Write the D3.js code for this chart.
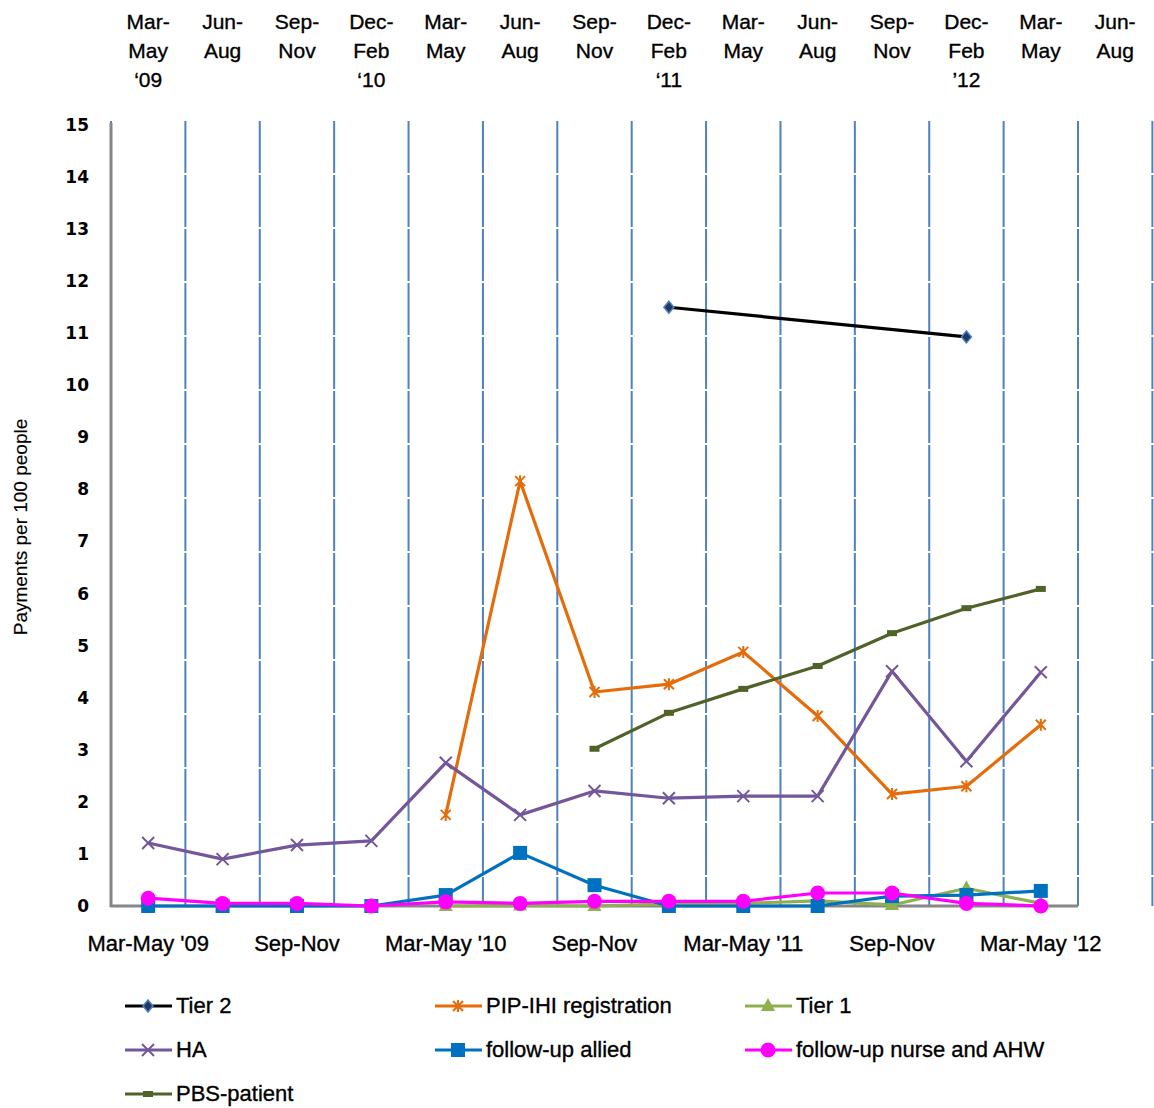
<!DOCTYPE html>
<html>
<head>
<meta charset="utf-8">
<script src="https://cdn.jsdelivr.net/npm/d3@7"></script>
<style>
  html, body { margin: 0; padding: 0; background: #fff; }
  svg { display: block; }
  .cal { font-family: "Liberation Sans Narrow", "Liberation Sans", sans-serif; stroke: #000; stroke-width: 0.35px; }
</style>
</head>
<body>
<svg id="chart" width="1154" height="1108"></svg>
<script>
// Quarterly periods plotted along the bottom axis
const periods = ["Mar-May '09", "Jun-Aug '09", "Sep-Nov '09", "Dec-Feb '10",
  "Mar-May '10", "Jun-Aug '10", "Sep-Nov '10", "Dec-Feb '11",
  "Mar-May '11", "Jun-Aug '11", "Sep-Nov '11", "Dec-Feb '12", "Mar-May '12"];

// Bottom axis labels (every second period is labelled)
const bottomLabels = ["Mar-May '09", "", "Sep-Nov", "", "Mar-May '10", "", "Sep-Nov", "",
  "Mar-May '11", "", "Sep-Nov", "", "Mar-May '12"];

// Secondary (top) axis: one more period, three-line labels
const topLabels = [
  ["Mar-", "May", "\u201809"], ["Jun-", "Aug"], ["Sep-", "Nov"], ["Dec-", "Feb", "\u201810"],
  ["Mar-", "May"], ["Jun-", "Aug"], ["Sep-", "Nov"], ["Dec-", "Feb", "\u201811"],
  ["Mar-", "May"], ["Jun-", "Aug"], ["Sep-", "Nov"], ["Dec-", "Feb", "\u201912"],
  ["Mar-", "May"], ["Jun-", "Aug"]
];

const yTicks = d3.range(0, 16);

// Payments per 100 people, by period (null = no payment item yet)
const tier2      = [null, null, null, null, null, null, null, 11.50, null, null, null, 10.93, null];
const pipIhi     = [null, null, null, null, 1.75, 8.16, 4.11, 4.26, 4.88, 3.65, 2.15, 2.30, 3.48];
const tier1      = [null, null, null, null, 0.00, 0.01, 0.00, 0.04, 0.05, 0.10, 0.02, 0.34, 0.05];
const ha         = [1.21, 0.90, 1.17, 1.25, 2.75, 1.75, 2.21, 2.07, 2.11, 2.11, 4.51, 2.78, 4.49];
const fuAllied   = [0.00, 0.00, 0.00, 0.00, 0.21, 1.02, 0.40, 0.00, 0.00, 0.00, 0.19, 0.21, 0.29];
const fuNurseAhw = [0.15, 0.05, 0.05, 0.00, 0.08, 0.05, 0.09, 0.09, 0.09, 0.25, 0.25, 0.05, 0.00];
const pbsPatient = [null, null, null, null, null, null, 3.02, 3.71, 4.17, 4.61, 5.24, 5.72, 6.09];

const series = [
  { name: "Tier 2", values: tier2, color: "#000000", marker: "diamond" },
  { name: "PIP-IHI registration", values: pipIhi, color: "#E46C0A", marker: "asterisk" },
  { name: "Tier 1", values: tier1, color: "#8FB04E", marker: "triangle" },
  { name: "HA", values: ha, color: "#73579A", marker: "cross" },
  { name: "follow-up allied", values: fuAllied, color: "#0070C0", marker: "square" },
  { name: "follow-up nurse and AHW", values: fuNurseAhw, color: "#FF00FF", marker: "circle" },
  { name: "PBS-patient", values: pbsPatient, color: "#4F6228", marker: "dash" }
];

const svg = d3.select("#chart");
const plotLeft = 111, plotBottom = 906, plotTop = 125;
const step = (1078 - plotLeft) / periods.length;

const x = d3.scaleBand().domain(periods).range([plotLeft, plotLeft + step * periods.length]).padding(0);
const x2 = d3.scaleBand().domain(d3.range(topLabels.length)).range([plotLeft, plotLeft + step * topLabels.length]).padding(0);
const y = d3.scaleLinear().domain([0, 15]).range([plotBottom, plotTop]);
const cx = i => x(periods[i]) + x.bandwidth() / 2;

// Vertical gridlines on the secondary category axis
svg.append("g").selectAll("line")
  .data(d3.range(topLabels.length + 1))
  .join("line")
  .attr("x1", i => i < topLabels.length ? x2(i) : x2.range()[1])
  .attr("x2", i => i < topLabels.length ? x2(i) : x2.range()[1])
  .attr("y1", plotTop - 4).attr("y2", plotBottom)
  .attr("stroke", "#4F81BD").attr("stroke-width", 2)
  .attr("stroke-dasharray", "52 2");

// Secondary axis labels along the top
const tl = svg.append("g").attr("class", "cal")
  .selectAll("text").data(topLabels).join("text")
  .attr("text-anchor", "middle")
  .attr("font-size", 21).attr("fill", "#000");
tl.each(function (lines, i) {
  d3.select(this).selectAll("tspan").data(lines).join("tspan")
    .attr("x", x2(i) + x2.bandwidth() / 2)
    .attr("y", (d, j) => 29 + j * 29)
    .text(d => d);
});

// Y axis
const yAxis = svg.append("g").attr("transform", `translate(${plotLeft},0)`)
  .call(d3.axisLeft(y).tickValues(yTicks).tickSize(0).tickPadding(22).tickFormat(d3.format("d")));
yAxis.select(".domain").remove();
yAxis.selectAll("text")
  .attr("font-family", "DejaVu Sans, sans-serif").attr("font-weight", "bold")
  .attr("font-size", 17).attr("fill", "#000");

// X axis (bottom)
const xAxis = svg.append("g").attr("transform", `translate(0,${plotBottom})`)
  .call(d3.axisBottom(x).tickSize(0).tickPadding(29).tickFormat((d, i) => bottomLabels[i]));
xAxis.select(".domain").remove();
xAxis.selectAll("text").attr("class", "cal")
  .attr("font-size", 22).attr("fill", "#000");

// Axis lines
svg.append("line").attr("x1", plotLeft).attr("x2", plotLeft).attr("y1", plotTop - 2).attr("y2", plotBottom + 1)
  .attr("stroke", "#868686").attr("stroke-width", 3);
svg.append("line").attr("x1", plotLeft - 1).attr("x2", x.range()[1]).attr("y1", plotBottom).attr("y2", plotBottom)
  .attr("stroke", "#868686").attr("stroke-width", 3);

// Y axis title
svg.append("text").attr("class", "cal")
  .attr("transform", `translate(27,${527}) rotate(-90)`)
  .attr("text-anchor", "middle").attr("font-size", 19).attr("fill", "#000")
  .style("stroke-width", "0.15px")
  .text("Payments per 100 people");

// Marker drawing
function drawMarker(g, type, color, px, py) {
  if (type === "diamond") {
    g.append("path").attr("d", `M${px},${py - 6}L${px + 5},${py}L${px},${py + 6}L${px - 5},${py}Z`)
      .attr("fill", "#1F3864").attr("stroke", "#4F81BD").attr("stroke-width", 1.5);
  } else if (type === "asterisk") {
    g.append("path").attr("d",
      `M${px - 5},${py - 5}L${px + 5},${py + 5}M${px - 5},${py + 5}L${px + 5},${py - 5}M${px},${py - 6}L${px},${py + 6}`)
      .attr("stroke", color).attr("stroke-width", 2).attr("fill", "none");
  } else if (type === "triangle") {
    g.append("path").attr("d", `M${px},${py - 8}L${px + 7},${py + 5}L${px - 7},${py + 5}Z`).attr("fill", color);
  } else if (type === "cross") {
    g.append("path").attr("d", `M${px - 6},${py - 6}L${px + 6},${py + 6}M${px - 6},${py + 6}L${px + 6},${py - 6}`)
      .attr("stroke", color).attr("stroke-width", 2).attr("fill", "none");
  } else if (type === "square") {
    g.append("rect").attr("x", px - 7).attr("y", py - 7).attr("width", 14).attr("height", 14).attr("fill", color);
  } else if (type === "circle") {
    g.append("circle").attr("cx", px).attr("cy", py).attr("r", 7.5).attr("fill", color);
  } else if (type === "dash") {
    g.append("rect").attr("x", px - 5).attr("y", py - 3).attr("width", 10).attr("height", 6).attr("fill", color);
  }
}

// Series lines and markers
const line = d3.line().x(d => cx(d.i)).y(d => y(d.v));
series.forEach(s => {
  const pts = s.values.map((v, i) => ({ i, v })).filter(d => d.v !== null);
  const g = svg.append("g");
  g.append("path").datum(pts).attr("d", line)
    .attr("fill", "none").attr("stroke", s.color).attr("stroke-width", 3.2).attr("stroke-linejoin", "round");
  pts.forEach(d => drawMarker(g, s.marker, s.color, cx(d.i), y(d.v)));
});

// Legend
const legendCols = [125, 435, 745];
const legendRows = [1006, 1050, 1094];
series.forEach((s, k) => {
  const lx = legendCols[k % 3], ly = legendRows[Math.floor(k / 3)];
  const g = svg.append("g");
  g.append("line").attr("x1", lx).attr("x2", lx + 47).attr("y1", ly).attr("y2", ly)
    .attr("stroke", s.color).attr("stroke-width", 3.2);
  drawMarker(g, s.marker, s.color, lx + 23, ly);
  g.append("text").attr("class", "cal").attr("x", lx + 51).attr("y", ly + 7)
    .attr("font-size", 22).attr("fill", "#000").text(s.name);
});
</script>
</body>
</html>
